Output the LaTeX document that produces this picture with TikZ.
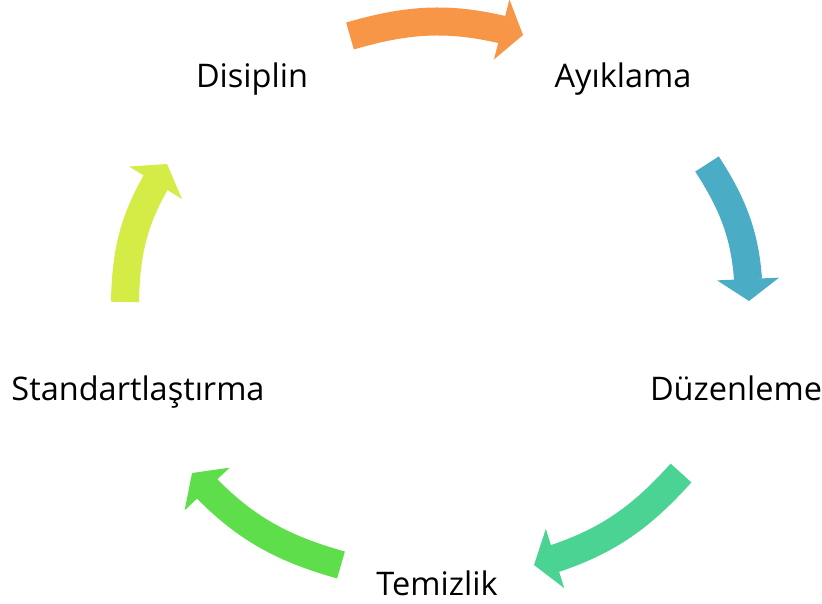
\documentclass[tikz,border=0pt]{standalone}
\usepackage{fontspec}
\setmainfont{Open Sans}
\usetikzlibrary{arrows.meta,bending}

\definecolor{orangearrow}{HTML}{F79646}
\definecolor{tealarrow}{HTML}{4BACC6}
\definecolor{mintarrow}{HTML}{4AD393}
\definecolor{greenarrow}{HTML}{5EDE4A}
\definecolor{limearrow}{HTML}{D4EC45}

\tikzset{
	stage/.style={anchor=base, inner sep=0pt, font=\fontsize{32.5}{38}\selectfont},
	cyclearrow/.style={line width=28pt, -{Triangle[length=22pt,width=62pt,line width=0pt]}}
}

\begin{document}
\begin{tikzpicture}[x=1pt, y=1pt]
	\useasboundingbox (0, 0) rectangle (822, 603);

	\node[stage] (disiplin) at (252, 515)  {Disiplin};
	\node[stage] (ayiklama) at (623, 515)  {Ayıklama};
	\node[stage] (duzenleme) at (736, 202) {Düzenleme};
	\node[stage] (temizlik) at (437, 8)    {Temizlik};
	\node[stage] (standart) at (138, 202)  {Standartlaştırma};

	% arrow ends
	\coordinate (o1) at (350, 567);   \coordinate (o2) at (523, 568);
	\coordinate (t1) at (707, 439);   \coordinate (t2) at (749, 302);
	\coordinate (m1) at (681, 130);   \coordinate (m2) at (534, 38);
	\coordinate (g1) at (341, 38);    \coordinate (g2) at (192, 130);
	\coordinate (l1) at (125, 301);   \coordinate (l2) at (167, 439);

	\draw[cyclearrow, draw=orangearrow] (o1) to[bend left=16] (o2);
	\draw[cyclearrow, draw=tealarrow]   (t1) to[bend left=16] (t2);
	\draw[cyclearrow, draw=mintarrow]   (m1) to[bend left=16] (m2);
	\draw[cyclearrow, draw=greenarrow]  (g1) to[bend left=16] (g2);
	\draw[cyclearrow, draw=limearrow]   (l1) to[bend left=16] (l2);

\end{tikzpicture}
\end{document}
